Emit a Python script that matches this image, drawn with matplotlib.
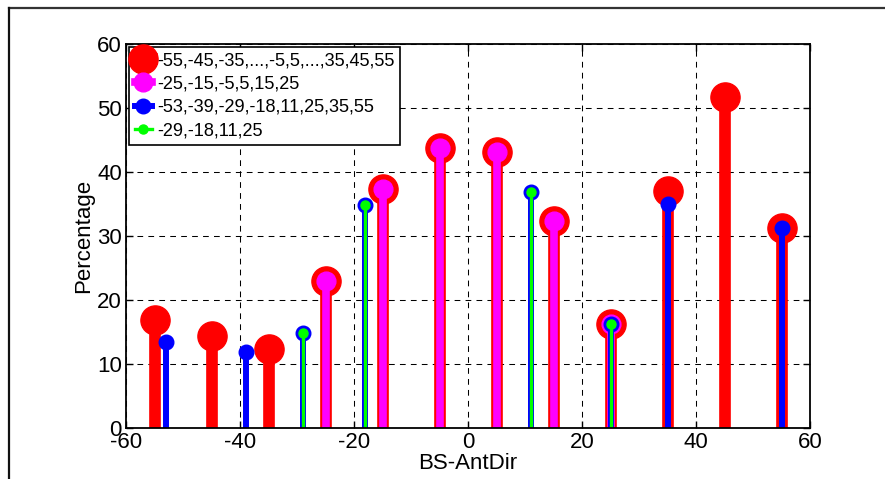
import numpy as np
import matplotlib
matplotlib.use("Agg")
import matplotlib.pyplot as plt
from matplotlib.lines import Line2D
from matplotlib.legend_handler import HandlerLine2D

plt.rcParams['font.family'] = ['Liberation Sans', 'DejaVu Sans']
plt.rcParams['axes.unicode_minus'] = False

# Antenna direction offsets (degrees) and percentage per group
x_red = [-55, -45, -35, -25, -15, -5, 5, 15, 25, 35, 45, 55]
y_red = [16.8, 14.3, 12.3, 22.9, 37.4, 43.8, 43.2, 32.3, 16.3, 37.1, 51.7, 31.3]

x_mag = [-25, -15, -5, 5, 15, 25]
y_mag = [22.9, 37.4, 43.8, 43.2, 32.3, 16.3]

x_blue = [-53, -39, -29, -18, 11, 25, 35, 55]
y_blue = [13.5, 11.9, 14.8, 34.9, 36.8, 16.3, 35.0, 31.3]

x_green = [-29, -18, 11, 25]
y_green = [14.8, 34.9, 36.8, 16.3]

labels = ['-55,-45,-35,...,-5,5,...,35,45,55',
          '-25,-15,-5,5,15,25',
          '-53,-39,-29,-18,11,25,35,55',
          '-29,-18,11,25']

xticks = [-60, -40, -20, 0, 20, 40, 60]
yticks = [0, 10, 20, 30, 40, 50, 60]

fig = plt.figure(figsize=(8.85, 4.79), dpi=100)
ax = fig.add_axes([126 / 885, 1 - 428 / 479, 684 / 885, 384 / 479])

styles = [
    (x_red, y_red, '#ff0000', 8.4, 21.0),
    (x_mag, y_mag, '#ff00ff', 5.5, 13.5),
    (x_blue, y_blue, '#0000ff', 4.3, 10.5),
    (x_green, y_green, '#00ff00', 2.4, 6.5),
]

handles = []
for i, (xs, ys, col, lw, ms) in enumerate(styles):
    z = 3 + i
    ax.vlines(xs, 0, ys, colors=col, linewidth=lw, zorder=z)
    ax.plot(xs, ys, linestyle='none', marker='o', markersize=ms,
            markerfacecolor=col, markeredgecolor=col, zorder=z)
    handles.append(Line2D([], [], color=col, linewidth=lw, marker='o',
                          markersize=ms, markerfacecolor=col,
                          markeredgecolor=col))


class MarkerRightHandler(HandlerLine2D):
    def get_xdata(self, legend, xdescent, ydescent, width, height, fontsize):
        xdata = [-xdescent, -xdescent + width]
        return xdata, [-xdescent + width]


ax.set_xlim(-60, 60)
ax.set_ylim(0, 60)
ax.set_xticks(xticks)
ax.set_yticks(yticks)
ax.tick_params(direction='in', length=5, width=1, labelsize=16,
               top=True, right=True, pad=3)
ax.grid(True, color='black', linestyle=(0, (5.5, 5)), linewidth=0.75)
ax.set_axisbelow(True)
for s in ax.spines.values():
    s.set_linewidth(1.3)
    s.set_zorder(10)

ax.set_xlabel('BS-AntDir', fontsize=16, labelpad=0)
ax.set_ylabel('Percentage', fontsize=16, labelpad=2)

leg = ax.legend(handles, labels, loc='upper left', fontsize=13.1,
                handler_map={h: MarkerRightHandler() for h in handles},
                handlelength=0.95, handletextpad=0.3, borderpad=0.32,
                labelspacing=0.34, borderaxespad=0.15, frameon=True,
                fancybox=False, edgecolor='black', framealpha=1)
leg.get_frame().set_linewidth(1.2)
leg.set_zorder(20)

# Partial outer frame along the top and left edges of the figure
fig.add_artist(Line2D([9 / 885, 1], [1 - 8 / 479, 1 - 8 / 479],
                      transform=fig.transFigure, color='#333333', linewidth=1.6))
fig.add_artist(Line2D([9 / 885, 9 / 885], [0, 1 - 8 / 479],
                      transform=fig.transFigure, color='#111111', linewidth=1.6))

fig.savefig('out.png', dpi=100)
